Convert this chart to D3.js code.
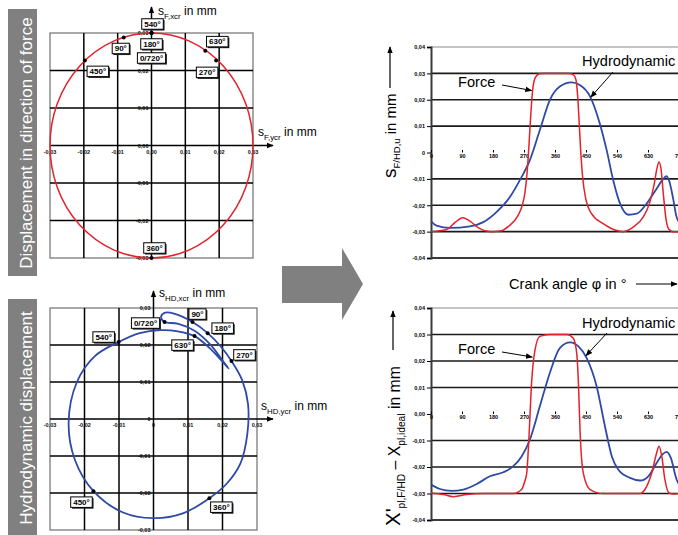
<!DOCTYPE html>
<html lang="en">
<head>
<meta charset="UTF-8">
<title>Force vs hydrodynamic displacement</title>
<script src="https://d3js.org/d3.v7.min.js"></script>
<style>
  body { margin: 0; background: #fff; }
  svg { display: block; font-family: "Liberation Sans", Arial, sans-serif; }
</style>
</head>
<body>
<script>
// ---- data ----
const polarTicks = [-0.03, -0.02, -0.01, 0, 0.01, 0.02, 0.03];
const forceTickLabels = ["-0,03", "-0,02", "-0,01", "0,00", "0,01", "0,02", "0,03"];
const hdTickLabels = ["-0,03", "-0,02", "-0,01", "0", "0,01", "0,02", "0,03"];

const forceRadius = 0.03;
const forceMarkLabels = ["540°", "180°", "0/720°", "90°", "450°", "630°", "270°", "360°"];
const forceMarkX = [0, 0, 0, -0.0082, -0.0197, 0.0159, 0.0191, 0];
const forceMarkY = [0.03, 0.03, 0.03, 0.0288, 0.0227, 0.0253, 0.0227, -0.03];

const hdMarkLabels = ["0/720°", "90°", "180°", "270°", "360°", "450°", "540°", "630°"];
const hdMarkX = [0.0032, 0.0113, 0.0157, 0.0226, 0.0162, -0.0174, -0.0101, 0.0119];
const hdMarkY = [0.0262, 0.0262, 0.0232, 0.0157, -0.0214, -0.0195, 0.0208, 0.0224];

// hydrodynamic orbit, traced from 0° round to 720°
const hdOrbitX = [0.0032, 0.0022, 0.0032, 0.0062, 0.0113, 0.0157, 0.0195, 0.0226, 0.0257, 0.0274,
  0.0272, 0.0252, 0.0212, 0.0162, 0.0085, 0.0000, -0.0090, -0.0174, -0.0228, -0.0246,
  -0.0222, -0.0170, -0.0101, -0.0040, 0.0020, 0.0070, 0.0119, 0.0168, 0.0218, 0.0204,
  0.0165, 0.0120, 0.0070];
const hdOrbitY = [0.0262, 0.0276, 0.0287, 0.0284, 0.0262, 0.0232, 0.0196, 0.0157, 0.0105, 0.0040,
  -0.0040, -0.0120, -0.0175, -0.0214, -0.0255, -0.0268, -0.0252, -0.0195, -0.0110, -0.0010,
  0.0100, 0.0170, 0.0208, 0.0232, 0.0240, 0.0237, 0.0224, 0.0187, 0.0136, 0.0153,
  0.0201, 0.0238, 0.0258];

const angleTicks = [0, 90, 180, 270, 360, 450, 540, 630, 720];
const valueTicks = [-0.04, -0.03, -0.02, -0.01, 0, 0.01, 0.02, 0.03, 0.04];
const topValueLabels = ["-0,04", "-0,03", "-0,02", "-0,01", "0", "0,01", "0,02", "0,03", "0,04"];
const bottomValueLabels = ["-0,04", "-0,03", "-0,02", "-0,01", "0,00", "0,01", "0,02", "0,03", "0,04"];

// upper time chart: s_F/HD,u
const forceTopAngle = [0, 45, 70, 92, 115, 137, 175, 200, 225, 252, 265, 273, 280, 285, 290, 295, 303, 315, 330,
  400, 414, 421, 426, 430, 434, 440, 450, 466, 500, 539, 558, 587, 616, 635, 648, 656, 662, 668, 674, 682, 690, 703, 720];
const forceTopValue = [-0.030, -0.0292, -0.0265, -0.0247, -0.0262, -0.0285, -0.0300, -0.0298, -0.0280, -0.0240, -0.0200, -0.0150,
  -0.0060, 0.0040, 0.0150, 0.0235, 0.0285, 0.0299, 0.0300,
  0.0300, 0.0294, 0.0275, 0.0210, 0.0120, 0.0020, -0.0090, -0.0180, -0.0232, -0.0270, -0.0296, -0.0300, -0.0283,
  -0.0245, -0.0190, -0.0120, -0.0060, -0.0036, -0.0065, -0.0150, -0.0250, -0.0290, -0.0300, -0.0300];
const hdTopAngle = [0, 16, 55, 113, 152, 190, 229, 258, 287, 316, 345, 374, 408, 432, 462, 490, 510, 529, 549, 573,
  597, 626, 655, 672, 683, 692, 703, 712, 720];
const hdTopValue = [-0.0260, -0.0277, -0.0286, -0.0280, -0.0264, -0.0226, -0.0169, -0.0105, -0.0029, 0.0085, 0.0199, 0.0250,
  0.0266, 0.0256, 0.0212, 0.0110, 0.0009, -0.0105, -0.0194, -0.0236, -0.0232, -0.0194, -0.0137, -0.0104,
  -0.0090, -0.0110, -0.0175, -0.0240, -0.0265];

// lower time chart: X'pl,F/HD - Xpl,ideal
const forceLowAngle = [0, 36, 65, 103, 152, 239, 263, 272, 278, 285, 292, 302, 316, 345, 394, 413, 423, 428, 433,
  442, 462, 500, 607, 621, 641, 655, 662, 670, 679, 691, 703, 720];
const forceLowValue = [-0.0298, -0.0304, -0.0312, -0.0304, -0.0300, -0.0300, -0.0285, -0.0255, -0.0222, -0.0072, 0.0117,
  0.0242, 0.0293, 0.0300, 0.0300, 0.0286, 0.0230, 0.0117, -0.0072, -0.0222, -0.0285, -0.0300, -0.0300, -0.0285,
  -0.0222, -0.0147, -0.0122, -0.0160, -0.0247, -0.0298, -0.0302, -0.0300];
const hdLowAngle = [0, 26, 60, 94, 133, 171, 210, 239, 263, 287, 316, 345, 374, 404, 428, 452, 481, 505, 525, 544,
  578, 607, 631, 655, 672, 684, 696, 713, 720];
const hdLowValue = [-0.0266, -0.0283, -0.0290, -0.0285, -0.0264, -0.0235, -0.0220, -0.0197, -0.0160, -0.0097, 0.0029,
  0.0155, 0.0249, 0.0270, 0.0255, 0.0211, 0.0104, -0.0046, -0.0160, -0.0210, -0.0241, -0.0251, -0.0235, -0.0185,
  -0.0152, -0.0143, -0.0165, -0.0247, -0.0266];

// ---- drawing ----
const W = 678, H = 535;
const RED = "#e3222b", BLUE = "#2e4aa6";

const svg = d3.select("body").append("svg").attr("width", W).attr("height", H);

const defs = svg.append("defs");
defs.append("marker")
    .attr("id", "arrow")
    .attr("viewBox", "0 0 10 10")
    .attr("refX", 9).attr("refY", 5)
    .attr("markerUnits", "userSpaceOnUse")
    .attr("markerWidth", 7).attr("markerHeight", 7)
    .attr("orient", "auto")
  .append("path")
    .attr("d", "M0,1L10,5L0,9Z")
    .attr("fill", "#000");

// grey side captions
function sideCaption(y0, y1, cy, label) {
    svg.append("rect").attr("x", 8).attr("y", y0).attr("width", 29).attr("height", y1 - y0).attr("fill", "#808080");
    svg.append("text")
        .attr("transform", `translate(32,${cy}) rotate(-90)`)
        .attr("text-anchor", "middle")
        .attr("fill", "#fff")
        .attr("font-size", 17)
        .text(label);
}
sideCaption(9, 276, 143, "Displacement in direction of force");
sideCaption(299, 537, 418, "Hydrodynamic displacement");

// grey arrow in the middle
svg.append("path")
    .attr("d", "M282,266H342V248L363,284L342,320V303H282Z")
    .attr("fill", "#808080");

function subLabel(g, x, y, main, sub, rest, size) {
    const t = g.append("text").attr("x", x).attr("y", y).attr("font-size", size);
    t.append("tspan").text(main);
    t.append("tspan").attr("dy", size * 0.3).attr("font-size", size * 0.66).text(sub);
    t.append("tspan").attr("dy", -size * 0.3).text(rest);
    return t;
}

function tagBox(g, cx, cy, label) {
    const grp = g.append("g");
    const t = grp.append("text")
        .attr("x", cx).attr("y", cy + 2.8)
        .attr("text-anchor", "middle")
        .attr("font-size", 8)
        .attr("font-weight", "bold")
        .text(label);
    const w = t.node().getComputedTextLength() + 5, h = 10.5;
    grp.insert("rect", () => t.node())
        .attr("x", cx - w / 2 + 1.3).attr("y", cy - h / 2 + 1.3).attr("width", w).attr("height", h).attr("fill", "#222");
    grp.insert("rect", () => t.node())
        .attr("x", cx - w / 2).attr("y", cy - h / 2).attr("width", w).attr("height", h)
        .attr("fill", "#fff").attr("stroke", "#000").attr("stroke-width", 1);
}

function polarPanel(o) {
    const x = d3.scaleLinear().domain([-0.03, 0.03]).range([o.left, o.right]);
    const y = d3.scaleLinear().domain([-0.03, 0.03]).range([o.bottom, o.top]);
    const g = svg.append("g");
    const inner = polarTicks.slice(1, -1);

    g.append("rect")
        .attr("x", o.left).attr("y", o.top)
        .attr("width", o.right - o.left).attr("height", o.bottom - o.top)
        .attr("fill", "none").attr("stroke", "#7a7a7a").attr("stroke-width", 1.3);
    g.selectAll(".gv").data(inner).join("line")
        .attr("x1", d => x(d)).attr("x2", d => x(d))
        .attr("y1", o.top).attr("y2", o.bottom)
        .attr("stroke", "#000").attr("stroke-width", 1.5);
    g.selectAll(".gh").data(inner).join("line")
        .attr("y1", d => y(d)).attr("y2", d => y(d))
        .attr("x1", o.left).attr("x2", o.right)
        .attr("stroke", "#000").attr("stroke-width", 1.5);

    // axis arrows
    g.append("line").attr("x1", x(0)).attr("x2", x(0)).attr("y1", o.top).attr("y2", o.arrowTop)
        .attr("stroke", "#000").attr("stroke-width", 1.5).attr("marker-end", "url(#arrow)");
    g.append("line").attr("x1", o.right).attr("x2", o.arrowRight).attr("y1", y(0)).attr("y2", y(0))
        .attr("stroke", "#000").attr("stroke-width", 1.5).attr("marker-end", "url(#arrow)");

    // tick labels
    const lab = g.append("g").attr("font-size", 5.5).attr("font-weight", "bold").attr("fill", "#111");
    lab.selectAll(".tx").data(polarTicks).join("text")
        .attr("x", d => x(d)).attr("y", y(0) + 8)
        .attr("text-anchor", "middle")
        .text((d, i) => o.labels[i]);
    lab.selectAll(".ty").data(polarTicks).join("text")
        .attr("x", x(0) - 3).attr("y", d => y(d) + 2)
        .attr("text-anchor", "end")
        .text((d, i) => o.labels[i]);
    return { x, y, g };
}

// --- upper orbit: force ---
const pF = polarPanel({ left: 50, right: 253, top: 33, bottom: 258, arrowTop: 7, arrowRight: 273, labels: forceTickLabels });
pF.g.append("ellipse")
    .attr("cx", pF.x(0)).attr("cy", pF.y(0))
    .attr("rx", pF.x(forceRadius) - pF.x(0)).attr("ry", pF.y(0) - pF.y(forceRadius))
    .attr("fill", "none").attr("stroke", RED).attr("stroke-width", 1.5);
subLabel(pF.g, 158, 15, "s", "F,xcr", " in mm", 12);
subLabel(pF.g, 258, 136, "s", "F,ycr", " in mm", 12);

const forceTagOffsets = [[1, -9], [0, 11], [0, 25], [-3, 11], [13, 11], [12, -9], [-9, 12], [3, -10]];
forceMarkLabels.forEach((lbl, i) => {
    const px = pF.x(forceMarkX[i]), py = pF.y(forceMarkY[i]);
    pF.g.append("circle").attr("cx", px).attr("cy", py).attr("r", 2).attr("fill", "#000");
});
forceMarkLabels.forEach((lbl, i) => {
    const px = pF.x(forceMarkX[i]), py = pF.y(forceMarkY[i]);
    tagBox(pF.g, px + forceTagOffsets[i][0], py + forceTagOffsets[i][1], lbl);
});

// --- lower orbit: hydrodynamic ---
const pH = polarPanel({ left: 50, right: 257, top: 308, bottom: 530, arrowTop: 291, arrowRight: 273, labels: hdTickLabels });
pH.g.append("path")
    .datum(hdOrbitX.map((v, i) => [v, hdOrbitY[i]]))
    .attr("d", d3.line().x(d => pH.x(d[0])).y(d => pH.y(d[1])).curve(d3.curveCatmullRomClosed.alpha(0.5)))
    .attr("fill", "none").attr("stroke", BLUE).attr("stroke-width", 1.8);
subLabel(pH.g, 159, 297, "s", "HD,xcr", " in mm", 12);
subLabel(pH.g, 261, 410, "s", "HD,ycr", " in mm", 12);

const hdTagOffsets = [[-19, 1], [5, -8], [15, -5], [13, -6], [12, 9], [-12, 11], [-15, -5], [-12, 9]];
hdMarkLabels.forEach((lbl, i) => {
    pH.g.append("circle").attr("cx", pH.x(hdMarkX[i])).attr("cy", pH.y(hdMarkY[i])).attr("r", 2).attr("fill", "#000");
});
hdMarkLabels.forEach((lbl, i) => {
    tagBox(pH.g, pH.x(hdMarkX[i]) + hdTagOffsets[i][0], pH.y(hdMarkY[i]) + hdTagOffsets[i][1], lbl);
});

// --- time charts ---
function timeChart(o) {
    const x = d3.scaleLinear().domain([0, 720]).range([431, 679]);
    const y = d3.scaleLinear().domain([-0.04, 0.04]).range([o.bottom, o.top]);
    const g = svg.append("g");

    // grid
    g.selectAll(".gl").data(valueTicks.filter(v => Math.abs(v) > 0.001 && Math.abs(v) < 0.035)).join("line")
        .attr("x1", x(0)).attr("x2", W + 5)
        .attr("y1", d => y(d)).attr("y2", d => y(d))
        .attr("stroke", "#1a1a1a").attr("stroke-width", 1.6);
    g.append("line").attr("x1", x(0)).attr("x2", W + 5).attr("y1", y(0.04)).attr("y2", y(0.04))
        .attr("stroke", "#8a8a8a").attr("stroke-width", 1);
    g.append("line").attr("x1", x(0)).attr("x2", W + 5).attr("y1", y(-0.04)).attr("y2", y(-0.04))
        .attr("stroke", "#3a3a3a").attr("stroke-width", 2);

    // y axis
    const ya = g.append("g").attr("transform", `translate(${x(0)},0)`)
        .call(d3.axisLeft(y).tickValues(valueTicks).tickSize(4).tickPadding(2)
            .tickFormat((d, i) => o.valueLabels[i]));
    ya.select(".domain").attr("stroke", "#3a3a3a").attr("stroke-width", 2);
    ya.selectAll("text").attr("font-size", 5.5).attr("font-weight", "bold").attr("font-family", null);

    // angle labels on zero line
    const xa = g.append("g").attr("transform", `translate(0,${y(0)})`)
        .call(d3.axisBottom(x).tickValues(angleTicks).tickSizeInner(-2.5).tickSizeOuter(0).tickPadding(1.5)
            .tickFormat(d3.format("d")));
    xa.select(".domain").remove();
    xa.selectAll("text").attr("font-size", 5.5).attr("font-weight", "bold").attr("font-family", null);

    const line = d3.line().x(d => x(d[0])).y(d => y(d[1])).curve(d3.curveMonotoneX);
    g.append("path").datum(o.hdA.map((a, i) => [a, o.hdV[i]]))
        .attr("d", line).attr("fill", "none").attr("stroke", BLUE).attr("stroke-width", 1.8);
    g.append("path").datum(o.fA.map((a, i) => [a, o.fV[i]]))
        .attr("d", line).attr("fill", "none").attr("stroke", RED).attr("stroke-width", 1.5);

    // annotations
    g.append("text").attr("x", 458).attr("y", o.forceTextY).attr("font-size", 14.6).text("Force");
    g.append("line").attr("x1", 502).attr("y1", o.forceTextY - 2)
        .attr("x2", x(o.forceTip[0])).attr("y2", y(o.forceTip[1]))
        .attr("stroke", "#000").attr("stroke-width", 1).attr("marker-end", "url(#arrow)");
    g.append("text").attr("x", 582).attr("y", o.hdTextY).attr("font-size", 14.6).text("Hydrodynamic");
    g.append("line").attr("x1", o.hdTail[0]).attr("y1", o.hdTail[1])
        .attr("x2", x(o.hdTip[0])).attr("y2", y(o.hdTip[1]))
        .attr("stroke", "#000").attr("stroke-width", 1).attr("marker-end", "url(#arrow)");

    // arrow above the rotated axis label
    g.append("line").attr("x1", o.arrowX).attr("x2", o.arrowX).attr("y1", o.arrowY0).attr("y2", o.arrowY1)
        .attr("stroke", "#000").attr("stroke-width", 1.2).attr("marker-end", "url(#arrow)");
    return { x, y, g };
}

const tTop = timeChart({
    top: 47, bottom: 258, valueLabels: topValueLabels,
    fA: forceTopAngle, fV: forceTopValue, hdA: hdTopAngle, hdV: hdTopValue,
    forceTextY: 87, forceTip: [292, 0.0235],
    hdTextY: 66, hdTail: [613, 72], hdTip: [464, 0.021],
    arrowX: 390, arrowY0: 88, arrowY1: 47
});
const topLab = tTop.g.append("text")
    .attr("transform", "translate(396,178) rotate(-90)")
    .attr("font-size", 15);
topLab.append("tspan").attr("font-size", 19).text("s");
topLab.append("tspan").attr("dy", 4).attr("font-size", 9.5).text("F/HD,u");
topLab.append("tspan").attr("dy", -4).text(" in mm");

const tLow = timeChart({
    top: 308, bottom: 520, valueLabels: bottomValueLabels,
    fA: forceLowAngle, fV: forceLowValue, hdA: hdLowAngle, hdV: hdLowValue,
    forceTextY: 354, forceTip: [294, 0.0215],
    hdTextY: 328, hdTail: [607, 333], hdTip: [450, 0.022],
    arrowX: 393, arrowY0: 350, arrowY1: 311
});
const lowLab = tLow.g.append("text")
    .attr("transform", "translate(400,526) rotate(-90)")
    .attr("font-size", 15.8);
lowLab.append("tspan").attr("font-size", 20.5).text("X'");
lowLab.append("tspan").attr("dy", 4.5).attr("font-size", 10.2).text("pl,F/HD");
lowLab.append("tspan").attr("dy", -4.5).text(" – X");
lowLab.append("tspan").attr("dy", 4.5).attr("font-size", 10.2).text("pl,ideal");
lowLab.append("tspan").attr("dy", -4.5).text(" in mm");

// crank angle caption between the charts
svg.append("text").attr("x", 509).attr("y", 289).attr("font-size", 14.6).text("Crank angle φ in °");
svg.append("line").attr("x1", 636).attr("x2", 677).attr("y1", 284).attr("y2", 284)
    .attr("stroke", "#000").attr("stroke-width", 1).attr("marker-end", "url(#arrow)");
</script>
</body>
</html>
